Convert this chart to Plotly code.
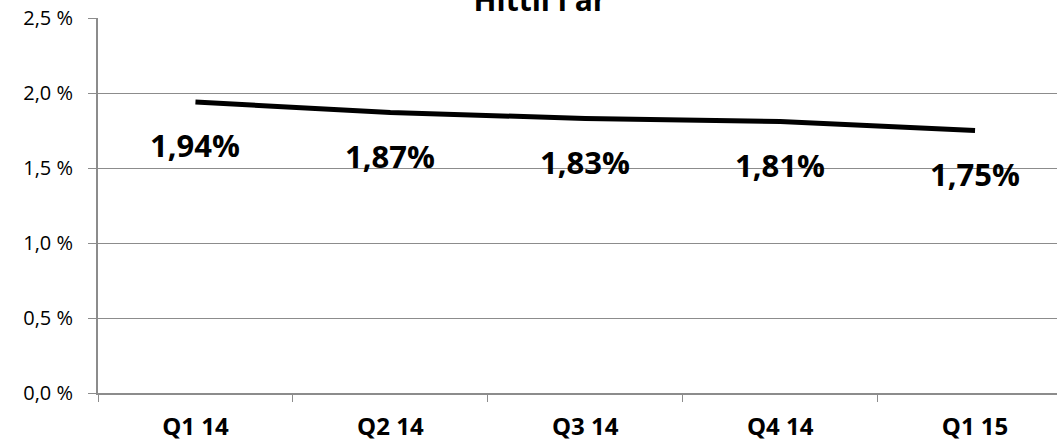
import plotly.graph_objects as go

title_text = "Hittil i år"
categories = ["Q1 14", "Q2 14", "Q3 14", "Q4 14", "Q1 15"]
values = [1.94, 1.87, 1.83, 1.81, 1.75]
value_labels = ["1,94%", "1,87%", "1,83%", "1,81%", "1,75%"]
y_tickvals = [0.0, 0.5, 1.0, 1.5, 2.0, 2.5]
y_ticktext = ["0,0 %", "0,5 %", "1,0 %", "1,5 %", "2,0 %", "2,5 %"]

GRID = "#8c8c8c"

fig = go.Figure()
fig.add_trace(go.Scatter(
    x=categories, y=values, mode="lines",
    line=dict(color="#000000", width=5),
    hoverinfo="skip", showlegend=False,
))

for c, v, t in zip(categories, values, value_labels):
    fig.add_annotation(
        x=c, y=v, text=t, showarrow=False, yshift=-43,
        font=dict(family="Open Sans", size=31, color="#000000", weight="bold"),
    )

W, H = 1057, 442
ml, mr, mt, mb = 97.5, 0, 18, 49
plot_w = W - ml - mr
step = 195.0
x_range = [-0.5, -0.5 + plot_w / step]

fig.update_layout(
    width=W, height=H,
    margin=dict(l=ml, r=mr, t=mt, b=mb, pad=0, autoexpand=False),
    paper_bgcolor="#ffffff", plot_bgcolor="#ffffff",
    title=dict(
        text=title_text, x=540 / W, xanchor="center",
        y=1.0, yref="container", yanchor="middle",
        font=dict(family="Open Sans", size=30, color="#000000", weight="bold"),
    ),
    xaxis=dict(
        type="category", categoryorder="array", categoryarray=categories,
        range=x_range, tickson="boundaries", automargin=False,
        showgrid=False, zeroline=False,
        showline=True, linecolor=GRID, linewidth=2,
        ticks="outside", ticklen=7, tickcolor=GRID, tickwidth=1,
        ticklabelstandoff=11,
        tickfont=dict(family="Open Sans", size=24, color="#000000", weight="bold"),
    ),
    yaxis=dict(
        range=[0, 2.5], tickvals=y_tickvals, ticktext=y_ticktext,
        automargin=False,
        showgrid=True, gridcolor=GRID, gridwidth=1, zeroline=False,
        showline=True, linecolor=GRID, linewidth=2,
        ticks="outside", ticklen=8, tickcolor=GRID, tickwidth=1,
        ticklabelstandoff=11,
        tickfont=dict(family="Open Sans", size=20, color="#000000"),
    ),
)

fig.write_html(
    "out.html",
    config={"displayModeBar": False, "staticPlot": True},
    post_script="document.body.style.margin='0';document.body.style.overflow='hidden';",
)
